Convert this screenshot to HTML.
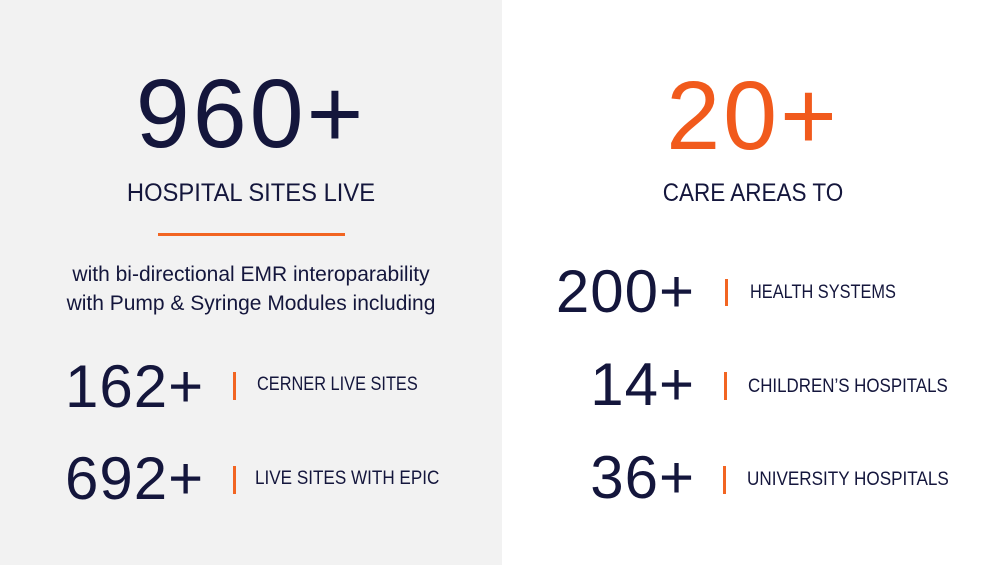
<!DOCTYPE html>
<html><head><meta charset="utf-8"><style>
*{margin:0;padding:0}
body{width:1004px;height:565px;position:relative;background:#fff;font-family:"Liberation Sans",sans-serif;color:#14163c;overflow:hidden}
.p{position:absolute;background:#f2f2f2;left:0;top:0;width:502px;height:565px}
.t{position:absolute;line-height:1;white-space:nowrap}
.c{text-align:center}
.b{position:absolute;width:3px;background:#f26522}
.big{font-size:97px;letter-spacing:3px}
.mid{font-size:60px;letter-spacing:1px}
.lab{font-size:19px;transform-origin:left top}
</style></head><body>
<div class="p"></div>
<div class="t c big" style="left:0;width:502px;top:65px">960+</div>
<div class="t c" style="left:0;width:502px;top:181px;font-size:25px;transform:scaleX(0.95)">HOSPITAL SITES LIVE</div>
<div style="position:absolute;left:158px;top:233px;width:187px;height:3px;background:#f26522"></div>
<div class="t c" style="left:0;width:502px;top:264px;font-size:21px;line-height:29px;margin-top:-4px">with bi-directional EMR interoparability<br>with Pump &amp; Syringe Modules including</div>
<div class="t mid" style="left:65px;top:357px">162+</div>
<div class="b" style="left:233px;top:372px;height:28px"></div>
<div class="t lab" style="left:257px;top:375px;transform:scaleX(0.86)">CERNER LIVE SITES</div>
<div class="t mid" style="left:65px;top:449px">692+</div>
<div class="b" style="left:233px;top:466px;height:28px"></div>
<div class="t lab" style="left:255px;top:469px;transform:scaleX(0.9)">LIVE SITES WITH EPIC</div>

<div class="t c big" style="left:502px;width:502px;top:67px;color:#f15a1c">20+</div>
<div class="t c" style="left:502px;width:502px;top:181px;font-size:25px;transform:scaleX(0.9)">CARE AREAS TO</div>
<div class="t mid" style="left:495px;width:200px;text-align:right;top:262px">200+</div>
<div class="b" style="left:725px;top:279px;height:27px"></div>
<div class="t lab" style="left:750px;top:283px;transform:scaleX(0.86)">HEALTH SYSTEMS</div>
<div class="t mid" style="left:495px;width:200px;text-align:right;top:355px">14+</div>
<div class="b" style="left:724px;top:372px;height:28px"></div>
<div class="t lab" style="left:748px;top:377px;transform:scaleX(0.89)">CHILDREN’S HOSPITALS</div>
<div class="t mid" style="left:495px;width:200px;text-align:right;top:448px">36+</div>
<div class="b" style="left:723px;top:466px;height:28px"></div>
<div class="t lab" style="left:747px;top:470px;transform:scaleX(0.9)">UNIVERSITY HOSPITALS</div>
</body></html>
